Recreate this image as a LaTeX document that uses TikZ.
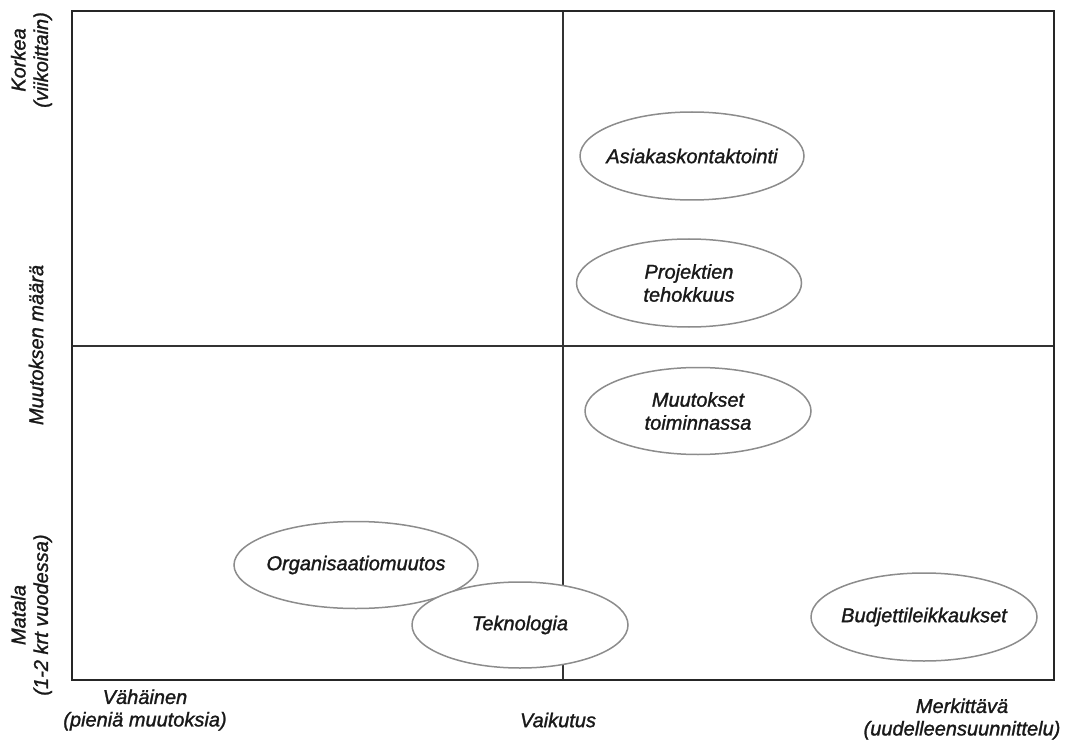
\documentclass[tikz,border=0pt]{standalone}
\usepackage{fontspec}
\setmainfont{Liberation Sans}
\newfontfamily\lblfont{Liberation Sans}[ItalicFeatures={FakeBold=1.3}]
\usetikzlibrary{shapes.geometric}
\begin{document}
\begin{tikzpicture}[x=1pt,y=-1pt,
  lbl/.style={font=\lblfont\fontsize{20}{22.5}\selectfont\itshape, align=center, inner sep=0pt, text=black!90},
  ovaltext/.style={font=\lblfont\fontsize{20}{23}\selectfont\itshape, align=center, inner sep=0pt, text=black!90},
  oval/.style={ellipse, draw=black!45, line width=1.5pt, fill=white, inner sep=0pt},
  frame/.style={line width=1.8pt, draw=black!85},
  divider/.style={line width=1.1pt, draw=black!80}]
\useasboundingbox[fill=white] (0,0) rectangle (1070,743);
% frame and quadrant lines
\coordinate (tl) at (72,11);
\coordinate (br) at (1054,680);
\coordinate (vt) at (563,11);
\coordinate (vb) at (563,680);
\coordinate (hl) at (72,346);
\coordinate (hr) at (1054,346);
\draw[divider] (vt) -- (vb);
\draw[divider] (hl) -- (hr);
\draw[frame] (tl) rectangle (br);
% ellipses
\node[oval, minimum width=224pt, minimum height=88pt,
      label={[ovaltext]center:Asiakaskontaktointi}] (asiakas) at (692,156) {};
\node[oval, minimum width=225pt, minimum height=88pt,
      label={[ovaltext]center:Projektien\\tehokkuus}] (projektit) at (689,283) {};
\node[oval, minimum width=226pt, minimum height=87pt,
      label={[ovaltext]center:Muutokset\\toiminnassa}] (muutokset) at (698,411) {};
\node[oval, minimum width=244pt, minimum height=87pt,
      label={[ovaltext]center:Organisaatiomuutos}] (organisaatio) at (356,565) {};
\node[oval, minimum width=216pt, minimum height=86pt,
      label={[ovaltext]center:Teknologia}] (teknologia) at (520,625) {};
\node[oval, minimum width=226pt, minimum height=88pt,
      label={[ovaltext]center:Budjettileikkaukset}] (budjetti) at (924,617) {};
% axis labels
\node[lbl, rotate=90] (korkea) at (31.5,60) {Korkea\\(viikoittain)};
\node[lbl, rotate=90] (maara) at (36,345) {Muutoksen määrä};
\node[lbl, rotate=90] (matala) at (31.5,615) {Matala\\(1-2 krt vuodessa)};
\node[lbl] (vahainen) at (145,710) {Vähäinen\\(pieniä muutoksia)};
\node[lbl] (vaikutus) at (558,720) {Vaikutus};
\node[lbl] (merkittava) at (962,719) {Merkittävä\\(uudelleensuunnittelu)};
\end{tikzpicture}
\end{document}
